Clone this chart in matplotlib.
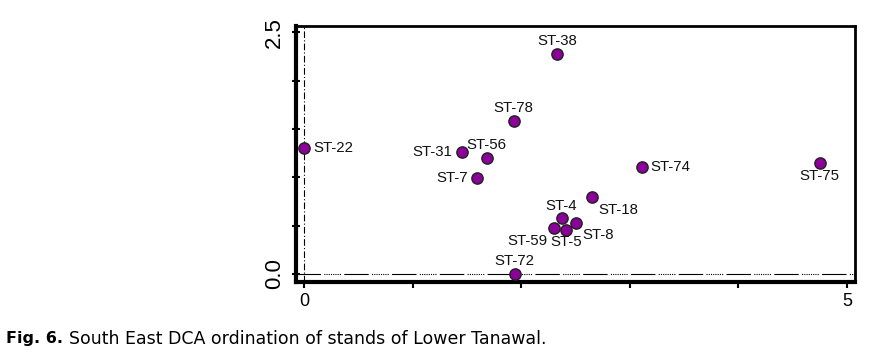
import matplotlib
matplotlib.use('Agg')
import matplotlib.pyplot as plt

# DCA axis scores
stands = ['ST-38', 'ST-78', 'ST-22', 'ST-31', 'ST-56', 'ST-7', 'ST-18',
          'ST-4', 'ST-8', 'ST-59', 'ST-5', 'ST-72', 'ST-74', 'ST-75']
axis1 = [2.33, 1.93, 0.00, 1.45, 1.68, 1.59, 2.65,
         2.37, 2.50, 2.30, 2.41, 1.94, 3.11, 4.75]
axis2 = [2.28, 1.58, 1.30, 1.26, 1.20, 0.99, 0.80,
         0.58, 0.53, 0.48, 0.46, 0.00, 1.11, 1.15]

# label placement (offset in px, alignment)
label_pos = {
    'ST-38': (0, 13, 'center'), 'ST-78': (0, 13, 'center'),
    'ST-22': (9, 0, 'left'), 'ST-31': (-9, 0, 'right'),
    'ST-56': (0, 13, 'center'), 'ST-7': (-9, 0, 'right'),
    'ST-18': (6, -13, 'left'), 'ST-4': (0, 12, 'center'),
    'ST-8': (7, -12.5, 'left'), 'ST-59': (-6, -13, 'right'),
    'ST-5': (0, -12.5, 'center'), 'ST-72': (0, 13, 'center'),
    'ST-74': (9, 0, 'left'), 'ST-75': (0, -13, 'center'),
}

plt.rcParams['font.family'] = ['Liberation Sans', 'DejaVu Sans']

fig = plt.figure(figsize=(8.72, 3.53), dpi=100)
ax = fig.add_axes([296 / 872, 1 - 282 / 353, (855 - 296) / 872, (282 - 26) / 353])

ax.axvline(0, color='black', lw=0.8, ls=(0, (6, 2, 1, 2)), zorder=1)
ax.axhline(0, color='black', lw=0.8,
           ls=(0, (22, 3, 1, 1, 1, 1, 1, 1, 1, 1, 1, 1, 1, 1, 1, 1, 1, 3)), zorder=1)

ax.scatter(axis1, axis2, s=66, color='#8B0099', edgecolors='#222222',
           linewidths=1.0, zorder=3)

for name, x, y in zip(stands, axis1, axis2):
    dx, dy, ha = label_pos[name]
    ax.annotate(name, (x, y), xytext=(dx * 0.72, dy * 0.72),
                textcoords='offset points', ha=ha, va='center',
                fontsize=10.8, color='#111111')

ax.set_xlim(-0.077, 5.075)
ax.set_ylim(-0.083, 2.565)
ax.set_xticks([0, 1, 2, 3, 4, 5])
ax.set_xticklabels(['0', '', '', '', '', '5'])
ax.set_yticks([0, 0.5, 1.0, 1.5, 2.0, 2.5])
ax.set_yticklabels(['0.0', '', '', '', '', '2.5'], rotation=90, va='center')

ax.tick_params(axis='x', direction='out', length=4, width=1.5,
               labelsize=13, pad=4)
ax.tick_params(axis='y', direction='inout', length=6, width=1.5,
               labelsize=16, pad=5)

ax.spines['left'].set_linewidth(3)
ax.spines['bottom'].set_linewidth(3)
ax.spines['top'].set_linewidth(2)
ax.spines['right'].set_linewidth(2)

# caption: bold figure number followed by regular text
t1 = fig.text(6 / 872, 1 - 339 / 353, 'Fig. 6.', fontsize=11.5,
              fontweight='bold', family='DejaVu Sans', va='center')
fig.canvas.draw()
bb = t1.get_window_extent(fig.canvas.get_renderer())
fig.text((bb.x1 + 6) / 872, 1 - 339 / 353,
         'South East DCA ordination of stands of Lower Tanawal.',
         fontsize=12.5, family='DejaVu Sans', va='center')

fig.savefig('out.png', dpi=100)
